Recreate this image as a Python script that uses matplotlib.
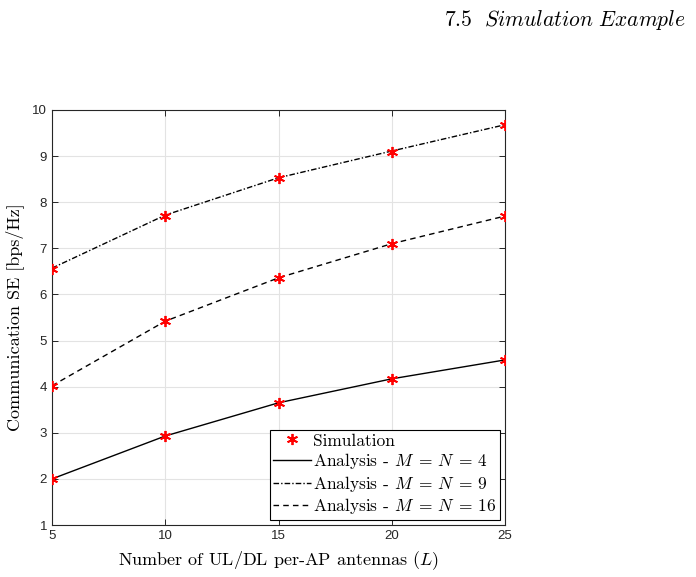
import matplotlib
matplotlib.use('Agg')
import matplotlib.pyplot as plt

# -----------------------------------------------------------------------------
# data
antennas = [5, 10, 15, 20, 25]
se_mn4 = [2.00, 2.93, 3.65, 4.17, 4.58]
se_mn9 = [6.57, 7.72, 8.53, 9.11, 9.68]
se_mn16 = [4.02, 5.42, 6.36, 7.10, 7.70]
sim_mn4 = [2.00, 2.93, 3.64, 4.16, 4.58]
sim_mn9 = [6.56, 7.71, 8.53, 9.09, 9.68]
sim_mn16 = [4.01, 5.42, 6.35, 7.09, 7.70]
yticks = [1, 2, 3, 4, 5, 6, 7, 8, 9, 10]
xticks = [5, 10, 15, 20, 25]

plt.rcParams['mathtext.fontset'] = 'cm'
plt.rcParams['font.family'] = ['Liberation Sans', 'DejaVu Sans']
serif = {'family': ['cmr10', 'DejaVu Serif']}

fig = plt.figure(figsize=(6.96, 5.77), dpi=100)
ax = fig.add_axes([0.0747, 0.0901, 0.6509, 0.7193])

star = (6, 2, 0)
ax.plot(antennas, sim_mn9, linestyle='none', marker=star, color='red',
        markersize=8, markeredgewidth=1.3, label='Simulation', zorder=4)
ax.plot(antennas, se_mn4, '-', color='black', lw=1.0,
        label=r'Analysis - $M\;=\,N\;=\,4$')
ax.plot(antennas, se_mn9, linestyle=(0, (4, 1.5, 1, 1.5)), color='black', lw=1.0,
        label=r'Analysis - $M\;=\,N\;=\,9$')
ax.plot(antennas, se_mn16, linestyle=(0, (4, 3)), color='black', lw=1.0,
        label=r'Analysis - $M\;=\,N\;=\,16$')
ax.plot(antennas, sim_mn4, linestyle='none', marker=star, color='red',
        markersize=8, markeredgewidth=1.3, zorder=4)
ax.plot(antennas, sim_mn16, linestyle='none', marker=star, color='red',
        markersize=8, markeredgewidth=1.3, zorder=4)

ax.set_xlim(5, 25)
ax.set_ylim(1, 10)
ax.set_xticks(xticks)
ax.set_yticks(yticks)
ax.grid(True, color='#e3e3e3', lw=0.8)
ax.set_axisbelow(True)
ax.tick_params(direction='in', top=True, right=True, labelsize=9.5,
               colors='#262626', length=4, width=0.7)
for s in ax.spines.values():
    s.set_color('#262626')
    s.set_linewidth(0.8)

ax.set_xlabel(r'Number of UL/DL per-AP antennas ($L$)', fontdict=serif,
              fontsize=13, labelpad=5)
ax.set_ylabel('Communication SE [bps/Hz]', fontdict=serif, fontsize=13,
              labelpad=6)

leg = ax.legend(loc='lower right', prop={'family': ['cmr10', 'DejaVu Serif'], 'size': 12.5},
                fancybox=False, edgecolor='black', framealpha=1,
                borderpad=0.2, handlelength=2.2, handletextpad=0.1,
                labelspacing=0.15, borderaxespad=0.3)
leg.get_frame().set_linewidth(0.8)

fig.text(0.985, 0.965, r'$\mathit{7.5\ \ Simulation\ Example}$', ha='right',
         va='center', fontsize=15.5)

fig.savefig('out.png', dpi=100)
